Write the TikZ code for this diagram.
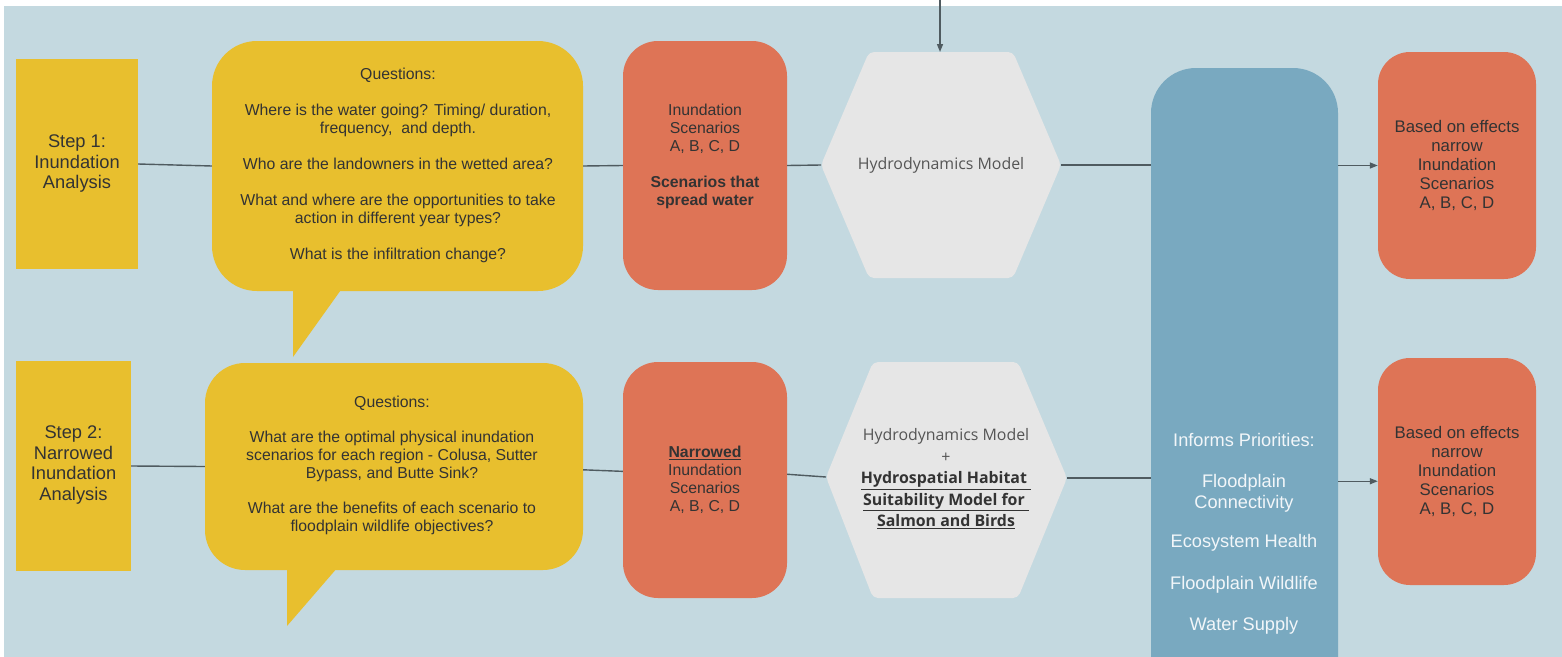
\documentclass[tikz,border=0pt]{standalone}
\usepackage{fontspec}
\setmainfont{Liberation Sans}
\newfontfamily\hexfont{Open Sans}
\usetikzlibrary{arrows.meta,calc}
\definecolor{bgc}{HTML}{C4D9E0}
\definecolor{yel}{HTML}{E8BF2E}
\definecolor{ora}{HTML}{DE7456}
\definecolor{hexc}{HTML}{E6E6E6}
\definecolor{blu}{HTML}{79A9C0}
\definecolor{linec}{HTML}{4F5B60}
\definecolor{txtc}{HTML}{333333}
\definecolor{hextxt}{HTML}{555555}
\definecolor{whtxt}{HTML}{F2F6F9}
\begin{document}
\begin{tikzpicture}[x=1pt,y=-1pt,
  stepbox/.style={fill=yel, inner sep=0pt},
  callout/.style={fill=yel, rounded corners=45pt, inner sep=0pt},
  orabox/.style={fill=ora, rounded corners=35pt, inner sep=0pt},
  blubox/.style={fill=blu, rounded corners=45pt, inner sep=0pt},
  txt/.style={align=center, text=txtc, inner sep=0pt, font=\fontsize{15.8}{18}\selectfont},
  steptxt/.style={align=center, text=txtc, inner sep=0pt, font=\fontsize{18.3}{20.5}\selectfont},
  rtxt/.style={align=center, text=txtc, inner sep=0pt, font=\fontsize{16.8}{19}\selectfont},
  hextext/.style={align=center, text=hextxt, inner sep=0pt, font=\hexfont\fontsize{15.9}{21.5}\selectfont},
  bltxt/.style={align=center, text=whtxt, inner sep=0pt, font=\fontsize{18.2}{20.5}\selectfont},
  conn/.style={draw=linec, line width=1.4pt},
  arr/.style={-{Triangle[length=8pt,width=6pt]}}
]
\clip (0,0) rectangle (1562,656);
\fill[white] (0,0) rectangle (1562,656);
\fill[bgc] (4,6) rectangle (1570,700);

% step boxes
\node[stepbox, minimum width=122pt, minimum height=210pt] (s1) at (77,164) {};
\node[steptxt] (s1t) at (77,164) {Step 1:\\Inundation\\Analysis};
\node[stepbox, minimum width=115pt, minimum height=210pt] (s2) at (73.5,466) {};
\node[steptxt] (s2t) at (73.5,465) {Step 2:\\Narrowed\\Inundation\\Analysis};

% callouts
\node[callout, minimum width=371pt, minimum height=250pt] (q1) at (397.5,166) {};
\fill[yel] (293,280) -- (348,280) -- (293,357) -- cycle;
\node[txt] (q1t) at (398,165) {Questions:\\[18pt]
Where is the water going? Timing/ duration,\\frequency,\ \ and depth.\\[18pt]
Who are the landowners in the wetted area?\\[18pt]
What and where are the opportunities to take\\action in different year types?\\[18pt]
What is the infiltration change?};

\node[callout, rounded corners=40pt, minimum width=378pt, minimum height=207pt] (q2) at (394,466.5) {};
\fill[yel] (287,560) -- (344,560) -- (287,626) -- cycle;
\node[txt] (q2t) at (392,465) {Questions:\\[17pt]
What are the optimal physical inundation\\scenarios for each region - Colusa, Sutter\\Bypass, and Butte Sink?\\[17pt]
What are the benefits of each scenario to\\floodplain wildlife objectives?};

% orange boxes
\node[orabox, minimum width=164pt, minimum height=249pt] (o1) at (705,165.5) {};
\node[txt] (o1t) at (705,156) {Inundation\\Scenarios\\A, B, C, D\\[18pt]
\textbf{Scenarios that}\\\textbf{spread water}};
\node[orabox, minimum width=164pt, minimum height=236pt] (o2) at (705,480) {};
\node[txt] (o2t) at (705,480) {\underline{\textbf{Narrowed}}\\Inundation\\Scenarios\\A, B, C, D};

% hexagons
\coordinate (h1w) at (821,165);
\coordinate (h1e) at (1061,165);
\coordinate (h1n) at (940,52);
\fill[hexc, rounded corners=5pt] (869,52) -- (1013,52) -- (h1e) -- (1013,278) -- (869,278) -- (h1w) -- cycle;
\node[hextext] (h1t) at (941,165) {Hydrodynamics Model};

\coordinate (h2w) at (826,477);
\coordinate (h2e) at (1067,478);
\fill[hexc, rounded corners=5pt] (873,362) -- (1018,362) -- (h2e) -- (1018,598) -- (873,598) -- (h2w) -- cycle;
\node[hextext] (h2t) at (946,479) {Hydrodynamics Model\\+\\
\textcolor{txtc}{\bfseries\underline{Hydrospatial Habitat\ }}\\
\textcolor{txtc}{\bfseries\underline{Suitability Model for\ }}\\
\textcolor{txtc}{\bfseries\underline{Salmon and Birds}}};

% blue column
\node[blubox, minimum width=187pt, minimum height=700pt] (bl) at (1244.5,418) {};
\node[bltxt] (blt) at (1244,534) {Informs Priorities:\\[21pt]
Floodplain\\Connectivity\\[19pt]
Ecosystem Health\\[21pt]
Floodplain Wildlife\\[21pt]
Water Supply};

% right orange boxes
\node[orabox, rounded corners=32pt, minimum width=158pt, minimum height=227pt] (r1) at (1457,165.5) {};
\node[rtxt] (r1t) at (1457,165) {Based on effects\\narrow\\Inundation\\Scenarios\\A, B, C, D};
\node[orabox, rounded corners=32pt, minimum width=158pt, minimum height=227pt] (r2) at (1457,471.5) {};
\node[rtxt] (r2t) at (1457,471) {Based on effects\\narrow\\Inundation\\Scenarios\\A, B, C, D};

% connectors row 1
\coordinate (topin) at (940,-4);
\draw[conn,arr] (topin) -- (h1n);
\draw[conn] (s1.east) -- (q1.west);
\draw[conn] (q1.east) -- (o1.west);
\draw[conn] (o1.east) -- (h1w);
\draw[conn] (h1e) -- (h1e -| bl.west);
\draw[conn,arr] (r1.west -| bl.east) -- (r1.west);

% connectors row 2
\draw[conn] (s2.east) -- (q2.west);
\draw[conn] (q2.-1) -- (o2.174);
\draw[conn] (o2.4) -- (h2w);
\draw[conn] (h2e) -- (h2e -| bl.west);
\coordinate (r2in) at (r2.187.6);
\draw[conn,arr] (r2in -| bl.east) -- (r2in);
\end{tikzpicture}
\end{document}
